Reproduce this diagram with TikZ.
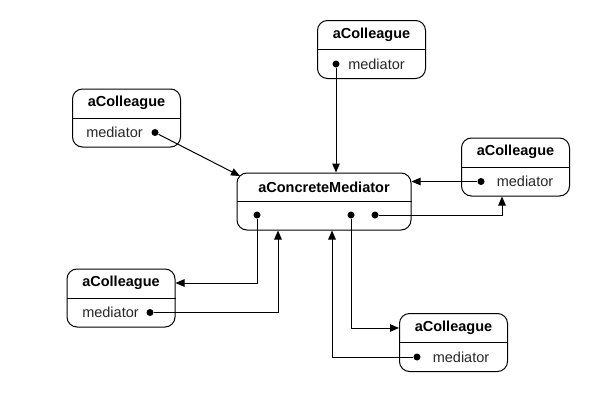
\documentclass[tikz,border=0pt]{standalone}
\usepackage{fontspec}
\setmainfont{Liberation Sans}
\usetikzlibrary{arrows.meta,positioning,calc}

\begin{document}
\begin{tikzpicture}[x=1pt,y=-1pt,>={Triangle[length=9pt,width=7.5pt]},line width=1pt,
  every node/.style={font=\fontsize{14.5}{17}\selectfont},
  obj/.style={draw,rounded corners=10pt,minimum width=108pt,minimum height=58pt,inner sep=0pt},
  title/.style={font=\fontsize{14.5}{17}\selectfont\bfseries,inner sep=0pt},
  attr/.style={inner sep=0pt,text=black!85},
  dot/.style={circle,fill,inner sep=0pt,minimum size=7pt}]
\useasboundingbox (0,0) rectangle (597,402);
% the mediator
\node[obj,minimum width=174pt,minimum height=57pt] (med) at (324,201.5) {};
\node[title] (med-t) at (324,187) {aConcreteMediator};
\draw (med.west) -- (med.east);
\node[dot] (m1) at (257,215) {};
\node[dot] (m2) at (351,215) {};
\node[dot] (m3) at (375,215) {};
% colleagues
\node[obj] (top) at (371.5,49.5) {};
\node[obj] (ul) at (126.5,118) {};
\node[obj] (r) at (515.5,167) {};
\node[obj] (ll) at (121,298) {};
\node[obj] (lr) at (453.5,342.5) {};
\foreach \c in {top,ul,r,ll,lr} {
  \node[title] (\c-t) at ($(\c.north)+(0,14.5)$) {aColleague};
  \draw (\c.west) -- (\c.east);
}
\node[attr] (top-a) at (376.5,64) {mediator};
\node[dot] (top-d) at (336,64) {};
\node[attr] (ul-a) at (114.5,132.5) {mediator};
\node[dot] (ul-d) at (155,132.5) {};
\node[attr] (r-a) at (525,181.5) {mediator};
\node[dot] (r-d) at (481,181.5) {};
\node[attr] (ll-a) at (110.5,312.5) {mediator};
\node[dot] (ll-d) at (150,312.5) {};
\node[attr] (lr-a) at (461,357) {mediator};
\node[dot] (lr-d) at (417,357) {};
% connectors
\coordinate (ul-end) at ($(med.north west)+(3.5,3.5)$);
\draw[->] (top-d) -- (top-d |- med.north);
\draw[->] (ul-d) -- (ul-end);
\draw[->] (r-d) -- (r-d -| med.east);
\draw[->] (m3) -| ($(r.south)+(-13.5,0)$);
\draw[->] (m1) |- ($(ll.east)+(0,-15)$);
\draw[->] (ll-d) -| ($(med.south)+(-46,0)$);
\draw[->] (m2) |- ($(lr.west)+(0,-14.5)$);
\draw[->] (lr-d) -| ($(med.south)+(8,0)$);
\end{tikzpicture}
\end{document}
